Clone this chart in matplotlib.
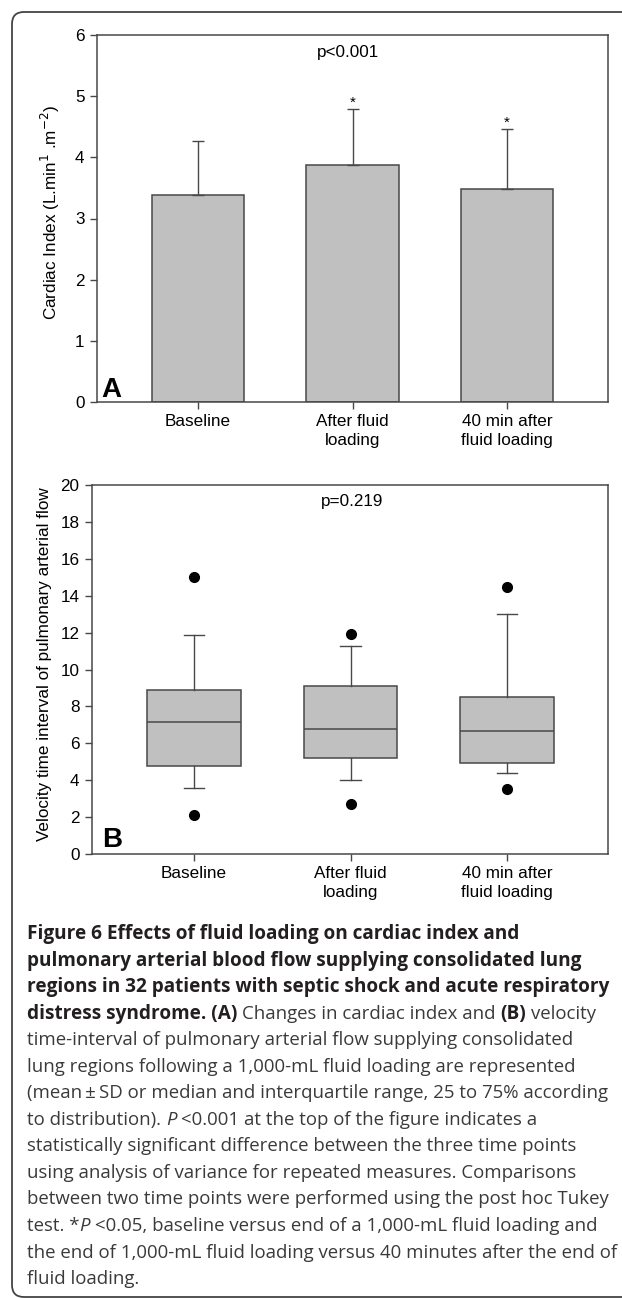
import matplotlib.pyplot as plt
from matplotlib.patches import FancyBboxPatch
from matplotlib.transforms import IdentityTransform

# panel A: cardiac index, mean +/- SD
groups = ['Baseline', 'After fluid\nloading', '40 min after\nfluid loading']
ci_mean = [3.38, 3.87, 3.49]
ci_sd = [0.89, 0.92, 0.98]
ci_star = [False, True, True]

# panel B: VTI box plots (median, quartiles, whiskers, outliers)
vti_q1 = [4.78, 5.18, 4.91]
vti_med = [7.18, 6.77, 6.68]
vti_q3 = [8.90, 9.10, 8.50]
vti_whislo = [3.59, 3.99, 4.39]
vti_whishi = [11.88, 11.28, 13.01]
vti_out_lo = [2.09, 2.69, 3.50]
vti_out_hi = [15.0, 11.9, 14.49]

caption = [
    [("Figure 6 Effects of fluid loading on cardiac index and", 'b')],
    [("pulmonary arterial blood flow supplying consolidated lung", 'b')],
    [("regions in 32 patients with septic shock and acute respiratory", 'b')],
    [("distress syndrome. (A)", 'b'), ("Changes in cardiac index and", 'r'),
     ("(B)", 'b'), ("velocity", 'r')],
    [("time-interval of pulmonary arterial flow supplying consolidated", 'r')],
    [("lung regions following a 1,000-mL fluid loading are represented", 'r')],
    [("(mean\u2009\u00b1\u2009SD or median and interquartile range, 25 to 75% according", 'r')],
    [("to distribution).", 'r'), ("P", 'i'), ("<0.001 at the top of the figure indicates a", 'r')],
    [("statistically significant difference between the three time points", 'r')],
    [("using analysis of variance for repeated measures. Comparisons", 'r')],
    [("between two time points were performed using the post hoc Tukey", 'r')],
    [("test. *", 'r'), ("P", 'i'), ("<0.05, baseline versus end of a 1,000-mL fluid loading and", 'r')],
    [("the end of 1,000-mL fluid loading versus 40 minutes after the end of", 'r')],
    [("fluid loading.", 'r')],
]

W, H = 622, 1298
plt.rcParams['font.family'] = ['Liberation Sans', 'DejaVu Sans']
fig = plt.figure(figsize=(W / 100, H / 100), dpi=100)
edge = '#484848'
fill = '#c0c0c0'


def axes_px(left, top, right, bottom):
    return fig.add_axes([left / W, 1 - bottom / H, (right - left) / W, (bottom - top) / H])


def style_axes(ax):
    for s in ax.spines.values():
        s.set_color(edge)
        s.set_linewidth(1.1)
    ax.tick_params(direction='out', length=5, width=1, color=edge,
                   labelsize=12.3, pad=4, top=False, right=False)
    ax.set_xticks(range(len(groups)))
    ax.set_xticklabels(groups, linespacing=1.3)


x = list(range(len(groups)))

# ---- A
axA = axes_px(97, 35, 608, 402)
axA.bar(x, ci_mean, width=0.6, color=fill, edgecolor=edge, linewidth=1.1,
        yerr=[[0] * 3, ci_sd], capsize=4.6,
        error_kw=dict(ecolor=edge, elinewidth=1, capthick=1))
for i in x:
    if ci_star[i]:
        axA.text(i, ci_mean[i] + ci_sd[i] + 0.03, '*', ha='center', va='baseline', fontsize=11)
axA.set_xlim(-0.654, 2.654)
axA.set_ylim(0, 6)
axA.set_yticks(range(0, 7))
style_axes(axA)
axA.set_ylabel('Cardiac Index (L.min$^{1}$ .m$^{-2}$)', fontsize=12.3)
axA.yaxis.set_label_coords(-0.069, 0.516)
axA.text(0.97, 5.72, 'p<0.001', ha='center', va='center', fontsize=12.3)
axA.text(0.008, 0.013, 'A', transform=axA.transAxes, fontsize=20, fontweight='bold',
         ha='left', va='baseline')

# ---- B
axB = axes_px(92, 485, 608, 854)
stats = []
for i in x:
    stats.append(dict(med=vti_med[i], q1=vti_q1[i], q3=vti_q3[i],
                      whislo=vti_whislo[i], whishi=vti_whishi[i],
                      fliers=[vti_out_lo[i], vti_out_hi[i]]))
axB.bxp(stats, positions=x, widths=0.6, capwidths=0.13, patch_artist=True,
        manage_ticks=False,
        boxprops=dict(facecolor=fill, edgecolor=edge, linewidth=1.1),
        medianprops=dict(color=edge, linewidth=1.1),
        whiskerprops=dict(color=edge, linewidth=1),
        capprops=dict(color=edge, linewidth=1),
        flierprops=dict(marker='o', markerfacecolor='black', markeredgecolor='black',
                        markersize=7))
axB.set_xlim(-0.652, 2.645)
axB.set_ylim(0, 20)
axB.set_yticks(range(0, 21, 2))
style_axes(axB)
axB.set_ylabel('Velocity time interval of pulmonary arterial flow', fontsize=12.3)
axB.yaxis.set_label_coords(-0.078, 0.515)
axB.text(1.01, 19.13, 'p=0.219', ha='center', va='center', fontsize=12.3)
axB.text(0.02, 0.018, 'B', transform=axB.transAxes, fontsize=20, fontweight='bold',
         ha='left', va='baseline')

# ---- outer frame (pixel coords, y up), runs off the right edge
frame = FancyBboxPatch((12, H - 1297), 700, 1285,
                       boxstyle='round,pad=0,rounding_size=12',
                       transform=IdentityTransform(), fill=False,
                       edgecolor='#444444', linewidth=1.3)
fig.patches.append(frame)

# ---- caption
renderer = fig.canvas.get_renderer()
cap_font = 'Open Sans'
looks = {
    'b': dict(fontweight='bold', fontsize=13.7, color='#231f20'),
    'r': dict(fontweight='normal', fontsize=13.4, color='#3a3a3a'),
    'i': dict(fontweight='normal', fontstyle='italic', fontsize=13.4, color='#3a3a3a'),
}


def text_w(s, **kw):
    t = fig.text(0, 0, s, family=cap_font, **kw)
    w = t.get_window_extent(renderer).width
    t.remove()
    return w


for k, line in enumerate(caption):
    xp = 27
    yb = 939 + 26.55 * k
    for j, (s, st) in enumerate(line):
        kw = looks[st]
        t = fig.text(xp / W, 1 - yb / H, s, family=cap_font, va='baseline', ha='left', **kw)
        xp += t.get_window_extent(renderer).width
        if s.endswith('*') or j + 1 == len(line):
            continue
        xp += text_w('x x', **kw) - text_w('xx', **kw)

fig.savefig('out.png', dpi=100)
